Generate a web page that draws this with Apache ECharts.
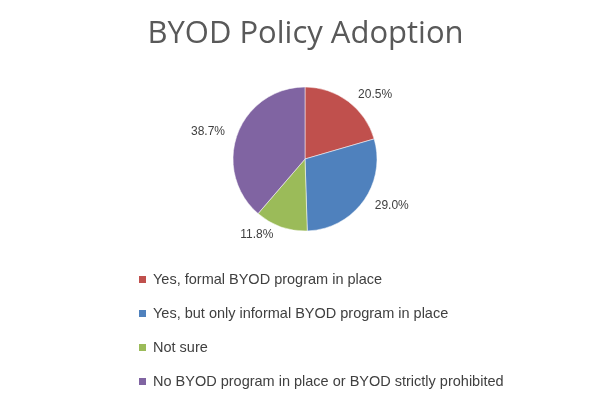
<!DOCTYPE html>
<html><head><meta charset="utf-8">
<script src="https://cdn.jsdelivr.net/npm/echarts@6/dist/echarts.min.js"></script>
<style>html,body{margin:0;padding:0;background:#fff}#c{width:611px;height:407px}</style>
</head><body><div id="c"></div>
<script>
const categories = ["Yes, formal BYOD program in place","Yes, but only informal BYOD program in place","Not sure","No BYOD program in place or BYOD strictly prohibited"];
const values = [20.5, 29.0, 11.8, 38.7];
const colors = ["#C0504D","#4F81BD","#9BBB59","#8064A2"];
const narrow = "Liberation Sans";
const chart = echarts.init(document.getElementById('c'));
chart.setOption({
  animation:false,
  color: colors,
  title:{text:"BYOD Policy Adoption",left:'center',top:14,textStyle:{fontFamily:"Open Sans",fontWeight:'normal',fontSize:31,color:'#595959'}},
  legend:{orient:'vertical',left:132,top:267,itemWidth:9,itemHeight:9,itemGap:19,icon:'rect',
    textStyle:{fontFamily:narrow,fontSize:14.5,color:'#404040',padding:[0,0,0,1]},
    data:categories},
  series:[{type:'pie',center:[305,159],radius:72,startAngle:90,clockwise:true,
    label:{show:true,position:'outside',formatter:p=>p.value.toFixed(1)+'%',fontFamily:narrow,fontSize:12,color:'#404040'},
    labelLine:{show:false,length:8,length2:0},
    itemStyle:{borderColor:'#fff',borderWidth:0.5},
    data:categories.map((n,i)=>({name:n,value:values[i]}))}]
});
</script></body></html>
